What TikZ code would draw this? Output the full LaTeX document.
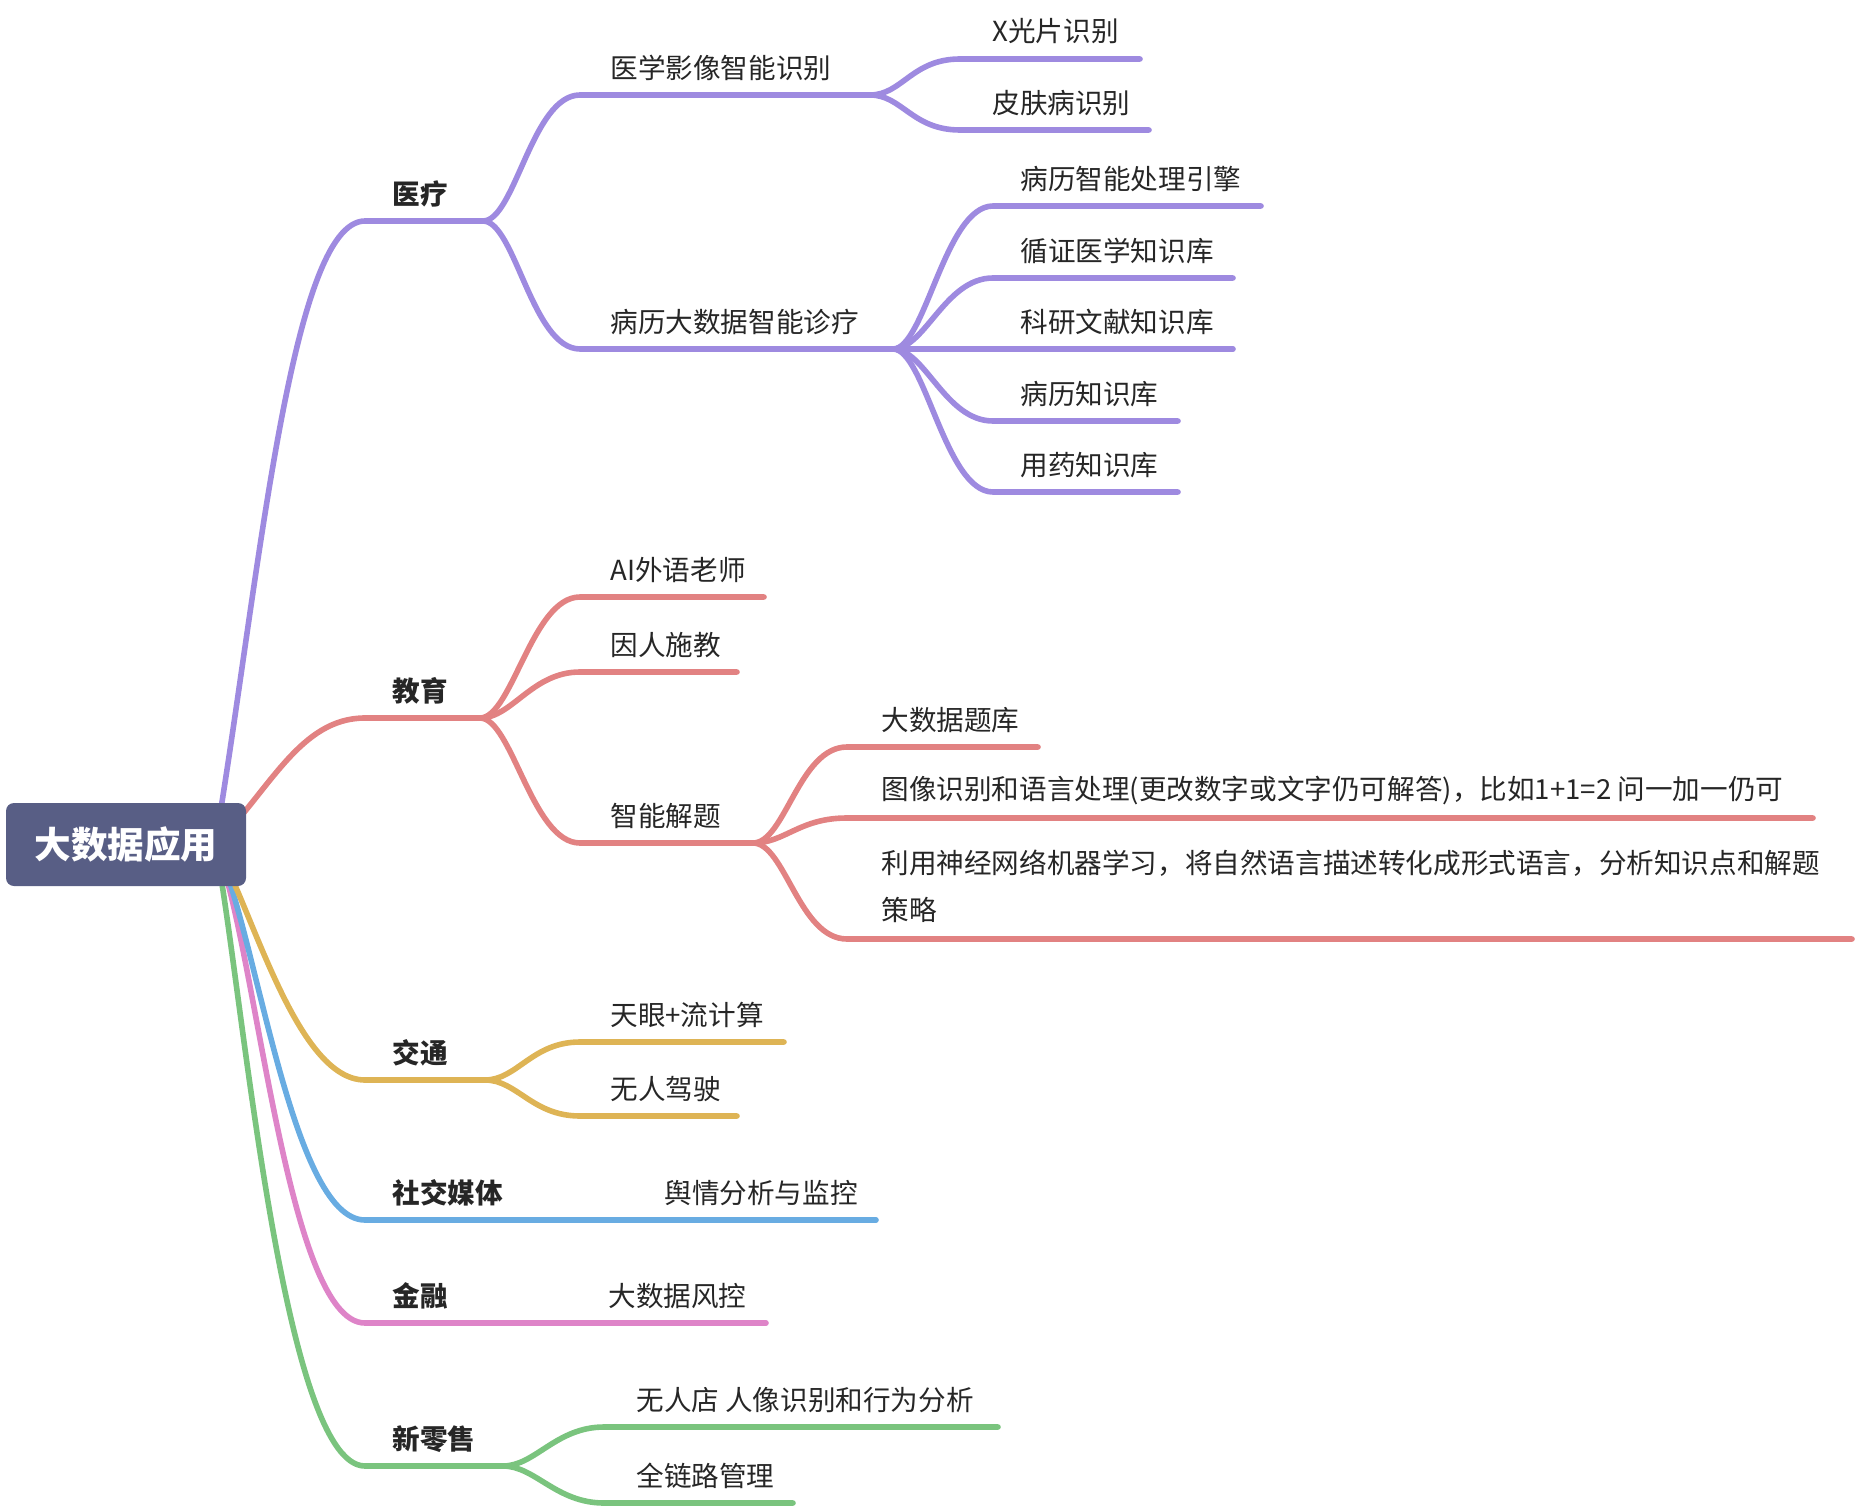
\documentclass[tikz,border=0pt]{standalone}
\usepackage{fontspec}
\setmainfont{Noto Sans CJK SC}
\definecolor{rootc}{RGB}{88,94,133}
\definecolor{txt}{RGB}{38,38,38}
\definecolor{pu}{RGB}{158,138,224}
\definecolor{rd}{RGB}{226,130,130}
\definecolor{ye}{RGB}{222,180,85}
\definecolor{bl}{RGB}{104,172,226}
\definecolor{pk}{RGB}{222,132,200}
\definecolor{gr}{RGB}{122,196,126}
\begin{document}
\begin{tikzpicture}[x=0.5pt, y=-0.5pt, line cap=round, line join=round,
    br/.style={line width=2.8pt},
    l1/.style={anchor=west, inner sep=0pt, text=txt, font=\fontsize{13.8}{16}\selectfont\bfseries},
    l2/.style={anchor=west, inner sep=0pt, text=txt, font=\fontsize{13.8}{16}\selectfont},
    rootbox/.style={fill=rootc, rounded corners=4pt, text=white, inner sep=0pt,
      minimum width=120pt, minimum height=41.5pt, font=\fontsize{18.3}{20}\selectfont\bfseries}]
  \useasboundingbox (0,0) rectangle (1856,1508);

  % underline ends
  \coordinate (hub) at (215,845);
  \coordinate (med-s) at (365,221);  \coordinate (med-e) at (483,221);
  \coordinate (edu-s) at (365,718);  \coordinate (edu-e) at (480,718);
  \coordinate (tra-s) at (365,1080); \coordinate (tra-e) at (485,1080);
  \coordinate (soc-s) at (365,1220); \coordinate (soc-e) at (500,1220);
  \coordinate (fin-s) at (365,1323); \coordinate (fin-e) at (483,1323);
  \coordinate (ret-s) at (365,1466); \coordinate (ret-e) at (503,1466);

  \coordinate (yx-s) at (580,95);   \coordinate (yx-e) at (870,95);
  \coordinate (bl-s) at (580,349);  \coordinate (bl-e) at (893,349);
  \coordinate (ai-s) at (580,597);  \coordinate (ai-e) at (764,597);
  \coordinate (yr-s) at (580,672);  \coordinate (yr-e) at (737,672);
  \coordinate (jt-s) at (580,843);  \coordinate (jt-e) at (753,843);
  \coordinate (ty-s) at (580,1042); \coordinate (ty-e) at (784,1042);
  \coordinate (wr-s) at (580,1116); \coordinate (wr-e) at (737,1116);
  \coordinate (yq-s) at (580,1220); \coordinate (yq-e) at (876,1220);
  \coordinate (fk-s) at (580,1323); \coordinate (fk-e) at (766,1323);
  \coordinate (wd-s) at (604,1427); \coordinate (wd-e) at (998,1427);
  \coordinate (ql-s) at (604,1503); \coordinate (ql-e) at (793,1503);

  \coordinate (xg-s) at (960,59);   \coordinate (xg-e) at (1140,59);
  \coordinate (pf-s) at (960,130);  \coordinate (pf-e) at (1149,130);
  \coordinate (b1-s) at (993,206);  \coordinate (b1-e) at (1261,206);
  \coordinate (b2-s) at (993,278);  \coordinate (b2-e) at (1233,278);
  \coordinate (b3-s) at (993,349);  \coordinate (b3-e) at (1233,349);
  \coordinate (b4-s) at (993,421);  \coordinate (b4-e) at (1178,421);
  \coordinate (b5-s) at (993,492);  \coordinate (b5-e) at (1178,492);
  \coordinate (t1-s) at (847,747);  \coordinate (t1-e) at (1038,747);
  \coordinate (t2-s) at (847,818);  \coordinate (t2-e) at (1813,818);
  \coordinate (t3-s) at (847,939);  \coordinate (t3-e) at (1852,939);

  % branches from the root
  \draw[br, pu] (hub) .. controls (258,590) and (290,221) .. (med-s) -- (med-e);
  \draw[br, rd] (hub) .. controls (270,790) and (300,718) .. (edu-s) -- (edu-e);
  \draw[br, gr] (hub) .. controls (240,960) and (280,1466) .. (ret-s) -- (ret-e);
  \draw[br, pk] (hub) .. controls (255,930) and (285,1323) .. (fin-s) -- (fin-e);
  \draw[br, bl] (hub) .. controls (255,920) and (290,1220) .. (soc-s) -- (soc-e);
  \draw[br, ye] (hub) .. controls (250,900) and (295,1080) .. (tra-s) -- (tra-e);

  \node[rootbox] (root) at (126,844.5) {大数据应用};

  % level 1
  \node[l1] (med) at (392,194)  {医疗};
  \node[l1] (edu) at (392,691)  {教育};
  \node[l1] (tra) at (392,1053) {交通};
  \node[l1] (soc) at (392,1193) {社交媒体};
  \node[l1] (fin) at (392,1296) {金融};
  \node[l1] (ret) at (392,1439) {新零售};

  % level 2
  \foreach \a/\b in {med/yx, med/bl}
    \draw[br, pu] (\a-e) .. controls +(32,0) and +(-48,0) .. (\b-s) -- (\b-e);
  \foreach \a/\b in {edu/ai, edu/yr, edu/jt}
    \draw[br, rd] (\a-e) .. controls +(32,0) and +(-48,0) .. (\b-s) -- (\b-e);
  \foreach \a/\b in {tra/ty, tra/wr}
    \draw[br, ye] (\a-e) .. controls +(32,0) and +(-48,0) .. (\b-s) -- (\b-e);
  \draw[br, bl] (soc-e) -- (yq-s) -- (yq-e);
  \draw[br, pk] (fin-e) -- (fk-s) -- (fk-e);
  \foreach \a/\b in {ret/wd, ret/ql}
    \draw[br, gr] (\a-e) .. controls +(32,0) and +(-48,0) .. (\b-s) -- (\b-e);

  \node[l2] (yx) at (610,68)   {医学影像智能识别};
  \node[l2] (bl) at (610,322)  {病历大数据智能诊疗};
  \node[l2] (ai) at (610,570)  {AI外语老师};
  \node[l2] (yr) at (610,645)  {因人施教};
  \node[l2] (jt) at (610,816)  {智能解题};
  \node[l2] (ty) at (610,1015) {天眼+流计算};
  \node[l2] (wr) at (610,1089) {无人驾驶};
  \node[l2] (yq) at (664,1193) {舆情分析与监控};
  \node[l2] (fk) at (608,1296) {大数据风控};
  \node[l2] (wd) at (636,1400) {无人店 人像识别和行为分析};
  \node[l2] (ql) at (636,1476) {全链路管理};

  % level 3
  \foreach \a/\b in {yx/xg, yx/pf, bl/b1, bl/b2, bl/b3, bl/b4, bl/b5}
    \draw[br, pu] (\a-e) .. controls +(32,0) and +(-48,0) .. (\b-s) -- (\b-e);
  \foreach \a/\b in {jt/t1, jt/t2, jt/t3}
    \draw[br, rd] (\a-e) .. controls +(32,0) and +(-48,0) .. (\b-s) -- (\b-e);

  \node[l2] (xg) at (992,31)   {X光片识别};
  \node[l2] (pf) at (992,103)  {皮肤病识别};
  \node[l2] (b1) at (1020,179) {病历智能处理引擎};
  \node[l2] (b2) at (1020,251) {循证医学知识库};
  \node[l2] (b3) at (1020,322) {科研文献知识库};
  \node[l2] (b4) at (1020,394) {病历知识库};
  \node[l2] (b5) at (1020,465) {用药知识库};
  \node[l2] (t1) at (881,720)  {大数据题库};
  \node[l2] (t2) at (881,791)  {图像识别和语言处理(更改数字或文字仍可解答)，比如1+1=2 问一加一仍可};
  \node[l2, align=left, font=\fontsize{13.8}{23.5}\selectfont] (t3) at (881,886.5)
    {利用神经网络机器学习，将自然语言描述转化成形式语言，分析知识点和解题\\策略};
\end{tikzpicture}
\end{document}
